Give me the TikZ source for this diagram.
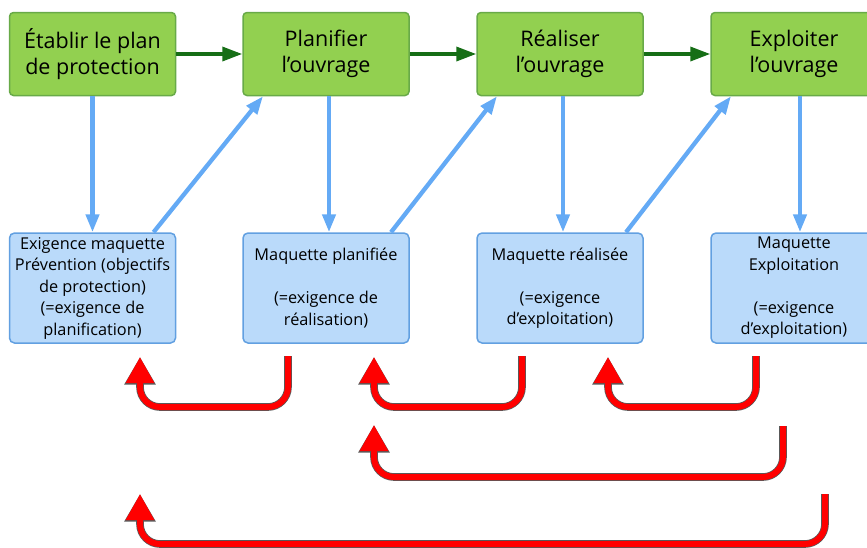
\documentclass[tikz,border=0pt]{standalone}
\usepackage{fontspec}
\setmainfont{Open Sans}
\usetikzlibrary{arrows.meta,calc}
\definecolor{phasegreen}{RGB}{146,208,80}
\definecolor{phaseedge}{RGB}{104,170,72}
\definecolor{flowgreen}{RGB}{22,110,22}
\definecolor{modelblue}{RGB}{186,218,250}
\definecolor{modeledge}{RGB}{98,160,225}
\definecolor{linkblue}{RGB}{100,170,245}
\tikzstyle{phase}=[rectangle, rounded corners=4pt, draw=phaseedge, line width=1.5pt, fill=phasegreen, minimum width=166pt, minimum height=83pt, align=center, font=\fontsize{21.5}{26.5}\selectfont]
\tikzstyle{model}=[rectangle, rounded corners=5pt, draw=modeledge, line width=1.5pt, fill=modelblue, minimum width=166pt, minimum height=110pt, inner sep=0pt, align=center, font=\fontsize{16.3}{21.5}\selectfont]
\tikzstyle{flow}=[-{Triangle[length=20pt,width=14pt]}, line width=3.5pt, draw=flowgreen]
\tikzstyle{link}=[-{Triangle[length=18pt,width=13pt]}, line width=4.3pt, draw=linkblue]
\tikzstyle{back}=[line width=6pt, draw=red, rounded corners=20pt, -{Triangle[length=26pt,width=27pt]}, preaction={draw=black!65, line width=7.6pt, -{Triangle[length=27.5pt,width=29.5pt]}}]

\begin{document}
\begin{tikzpicture}[x=1pt,y=-1pt]
				\clip (0,0) rectangle (867,547);
				
				%The phases
				\draw (92.5,54) node[phase] (p1) {Établir le plan\\de protection};
				\draw (326,54) node[phase] (p2) {Planifier\\l’ouvrage};
				\draw (560,54) node[phase] (p3) {Réaliser\\l’ouvrage};
				\draw (794,54) node[phase] (p4) {Exploiter\\l’ouvrage};
				
				%The models
				\draw (92.5,288) node[model] (m1) {Exigence maquette\\Prévention (objectifs\\de protection)\\(=exigence de\\planification)};
				\draw (326,288) node[model] (m2) {Maquette planifiée\\[21.5pt](=exigence de\\réalisation)};
				\draw (560,288) node[model] (m3) {Maquette réalisée\\[21.5pt](=exigence\\d’exploitation)};
				\draw (794,288) node[model] (m4) {Maquette\\Exploitation\\[21.5pt](=exigence\\d’exploitation)};
				
				%The loops back
				\coordinate (r1a) at (288,356);
				\coordinate (r1b) at (140,357);
				\coordinate (r2a) at (522,356);
				\coordinate (r2b) at (374,357);
				\coordinate (r3a) at (756,356);
				\coordinate (r3b) at (608,357);
				\coordinate (r4a) at (783,426);
				\coordinate (r4b) at (374,425);
				\coordinate (r5a) at (825,494);
				\coordinate (r5b) at (140,494);
				
				\draw[flow] (p1) -- (p2);
				\draw[flow] (p2) -- (p3);
				\draw[flow] (p3) -- (p4);
				
				\draw[link] (p1) -- (m1);
				\draw[link] ($(p2.south)+(3,0)$) -- ($(m2.north)+(3,0)$);
				\draw[link] ($(p3.south)+(3,0)$) -- ($(m3.north)+(3,0)$);
				\draw[link] ($(p4.south)+(6,0)$) -- ($(m4.north)+(6,0)$);
				
				\draw[link] ($(m1.north)+(61,0)$) -- ($(p2.south)+(-63,0)$);
				\draw[link] ($(m2.north)+(65,0)$) -- ($(p3.south)+(-63,0)$);
				\draw[link] ($(m3.north)+(66,0)$) -- ($(p4.south)+(-63,0)$);
				
				\draw[back] (r1a) -- ++(0,51) -| (r1b);
				\draw[back] (r2a) -- ++(0,51) -| (r2b);
				\draw[back] (r3a) -- ++(0,51) -| (r3b);
				\draw[back] (r4a) -- ++(0,51) -| (r4b);
				\draw[back] (r5a) -- ++(0,50) -| (r5b);
			\end{tikzpicture}
\end{document}
